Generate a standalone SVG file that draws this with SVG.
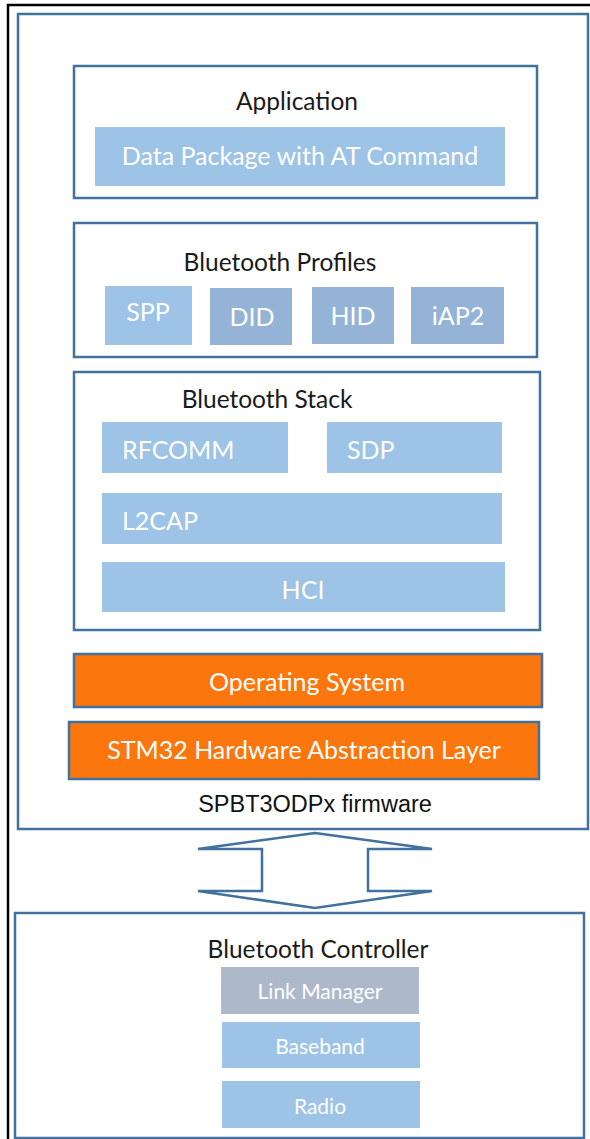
<svg xmlns="http://www.w3.org/2000/svg" width="590" height="1139" viewBox="0 0 590 1139">
<style>
.frame{fill:none;stroke:#000;stroke-width:2.5}
.box{fill:#fff;stroke:#41719C;stroke-width:2.5}
.blk{fill:#9DC3E6}
.blk2{fill:#95B3D7}
.grey{fill:#ADB9CA}
.org{fill:#FB770E;stroke:#41719C;stroke-width:2.5}
.t{font-family:Lato,"Open Sans",sans-serif;fill:#1a1a1a;font-size:24.5px}
.w{font-family:Lato,"Open Sans",sans-serif;fill:#fff;font-size:25px}
.ws{font-family:Lato,"Open Sans",sans-serif;fill:#fff;font-size:21px}
.m{text-anchor:middle}
.a{font-family:"Liberation Sans",Arial,sans-serif;fill:#111;font-size:23.5px}
</style>
<rect width="590" height="1139" fill="#fff"/>
<path class="frame" d="M8,1139 V5 H590"/>
<g id="firmware">
<rect class="box" x="18" y="14" width="570" height="815"/>
<text class="a m" x="315" y="812">SPBT3ODPx firmware</text>
</g>
<g id="application">
<rect class="box" x="74" y="66" width="463" height="132"/>
<text class="t m" x="297" y="110">Application</text>
<rect class="blk" x="95" y="127" width="410" height="59"/>
<text class="w m" x="300" y="165">Data Package with AT Command</text>
</g>
<g id="profiles">
<rect class="box" x="74" y="223" width="463" height="134"/>
<text class="t m" x="280" y="271">Bluetooth Profiles</text>
<rect class="blk" x="105" y="286" width="87" height="59"/>
<text class="w m" x="148" y="321">SPP</text>
<rect class="blk2" x="210" y="288" width="82" height="57"/>
<text class="w m" x="252" y="326">DID</text>
<rect class="blk2" x="312" y="287" width="82" height="57"/>
<text class="w m" x="353" y="325">HID</text>
<rect class="blk2" x="411" y="287" width="93" height="57"/>
<text class="w m" x="458" y="325">iAP2</text>
</g>
<g id="stack">
<rect class="box" x="74" y="372" width="466" height="258"/>
<text class="t m" x="267" y="408">Bluetooth Stack</text>
<rect class="blk" x="102" y="422" width="186" height="51"/>
<text class="w" x="122" y="459">RFCOMM</text>
<rect class="blk" x="327" y="422" width="175" height="51"/>
<text class="w" x="347" y="459">SDP</text>
<rect class="blk" x="102" y="493" width="400" height="51"/>
<text class="w" x="122" y="530">L2CAP</text>
<rect class="blk" x="102" y="562" width="403" height="50"/>
<text class="w m" x="303" y="599">HCI</text>
</g>
<g id="os">
<rect class="org" x="74" y="654" width="468" height="53"/>
<text class="w m" x="307" y="691">Operating System</text>
</g>
<g id="hal">
<rect class="org" x="69" y="722" width="470" height="57"/>
<text class="w m" x="304" y="759">STM32 Hardware Abstraction Layer</text>
</g>
<g id="connectors">
<polygon points="315,833 432,849 368,849 368,891 432,891 315,908 198,891 262,891 262,849 198,849" fill="#fff" stroke="#41719C" stroke-width="2.5" stroke-linejoin="miter"/>
</g>
<g id="controller">
<rect class="box" x="15" y="913" width="569" height="225"/>
<text class="t m" x="318" y="958">Bluetooth Controller</text>
<rect class="grey" x="221" y="967" width="198" height="47"/>
<text class="ws m" x="320" y="999">Link Manager</text>
<rect class="blk" x="222" y="1022" width="198" height="46"/>
<text class="ws m" x="320" y="1054">Baseband</text>
<rect class="blk" x="222" y="1081" width="198" height="47"/>
<text class="ws m" x="320" y="1114">Radio</text>
</g>
</svg>
